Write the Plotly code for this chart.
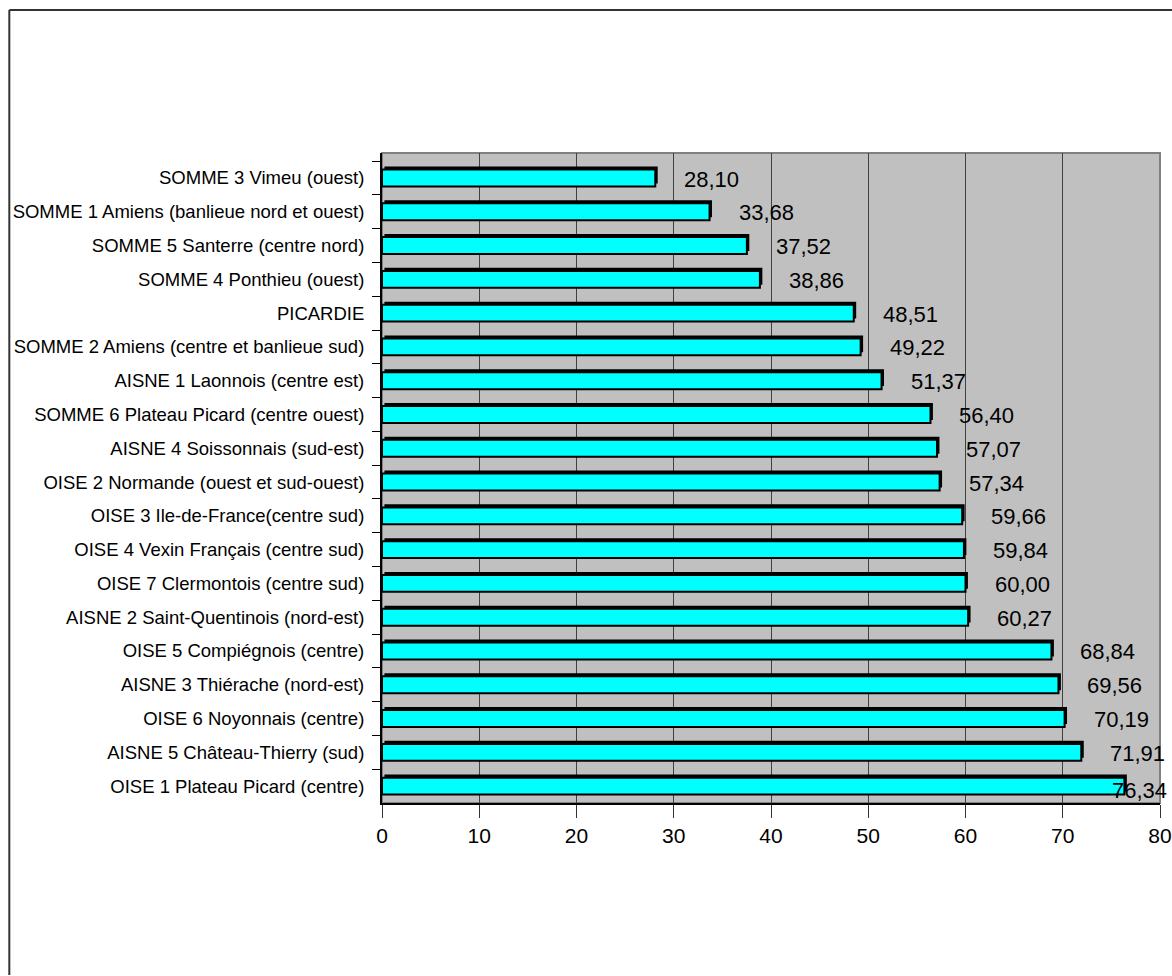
import plotly.graph_objects as go

# categories top to bottom, as shown in the chart
zones = [
    "SOMME 3 Vimeu (ouest)",
    "SOMME 1 Amiens (banlieue nord et ouest)",
    "SOMME 5 Santerre (centre nord)",
    "SOMME 4 Ponthieu (ouest)",
    "PICARDIE",
    "SOMME 2 Amiens (centre et banlieue sud)",
    "AISNE 1 Laonnois (centre est)",
    "SOMME 6 Plateau Picard (centre ouest)",
    "AISNE 4 Soissonnais (sud-est)",
    "OISE 2 Normande (ouest et sud-ouest)",
    "OISE 3 Ile-de-France(centre sud)",
    "OISE 4 Vexin Français (centre sud)",
    "OISE 7 Clermontois (centre sud)",
    "AISNE 2 Saint-Quentinois (nord-est)",
    "OISE 5 Compiégnois (centre)",
    "AISNE 3 Thiérache (nord-est)",
    "OISE 6 Noyonnais (centre)",
    "AISNE 5 Château-Thierry (sud)",
    "OISE 1 Plateau Picard (centre)",
]
valeurs = [28.10, 33.68, 37.52, 38.86, 48.51, 49.22, 51.37, 56.40, 57.07, 57.34,
           59.66, 59.84, 60.00, 60.27, 68.84, 69.56, 70.19, 71.91, 76.34]
x_ticks = [0, 10, 20, 30, 40, 50, 60, 70, 80]

labels = [f"{v:.2f}".replace(".", ",") for v in valeurs]

W, H = 1184, 976
left, right, top, bottom = 382, 1169, 153, 803
x_max = 80

fig = go.Figure()

# black "3D" shadow behind each bar
fig.add_trace(go.Bar(
    y=zones, x=valeurs, orientation="h", base=0.25,
    width=0.5, offset=-0.34,
    marker=dict(color="black", line=dict(width=0)),
    hoverinfo="skip", showlegend=False,
))
fig.add_trace(go.Bar(
    y=zones, x=valeurs, orientation="h",
    width=0.5, offset=-0.25,
    marker=dict(color="#00FFFF", line=dict(color="black", width=2)),
    showlegend=False,
))

lab_font = dict(family="Liberation Sans, Arial", size=22, color="black")
for z, v, t in zip(zones, valeurs, labels):
    if v > 74:
        # no room on the right: keep the label inside the frame, over the bar end
        fig.add_annotation(x=x_max, y=z, text=t, showarrow=False, xanchor="right",
                           xshift=9, yshift=-4, font=lab_font)
    else:
        fig.add_annotation(x=v, y=z, text=t, showarrow=False, xanchor="left",
                           xshift=27, yshift=-1, font=lab_font)

pw = right - left
ph = bottom - top
fx = lambda px: (px - left) / pw
fy = lambda py: (bottom - py) / ph
# outer frame of the chart (only left and top edges fall inside the picture)
frame = dict(color="#333333", width=2)
fig.add_shape(type="line", xref="paper", yref="paper",
              x0=fx(5), x1=fx(5), y0=fy(H - 1), y1=fy(10), line=frame, layer="below")
fig.add_shape(type="line", xref="paper", yref="paper",
              x0=fx(5), x1=fx(W - 1), y0=fy(10), y1=fy(10), line=frame, layer="below")
# plot area border (top / right in gray)
fig.add_shape(type="rect", xref="paper", yref="paper", x0=0, x1=1, y0=0, y1=1,
              line=dict(color="#808080", width=2), layer="below")

fig.update_layout(
    width=W, height=H,
    margin=dict(l=left, r=W - right, t=top, b=H - bottom),
    barmode="overlay",
    plot_bgcolor="#C0C0C0",
    paper_bgcolor="white",
    font=dict(family="Liberation Sans, Arial", color="black"),
    showlegend=False,
)
fig.update_xaxes(
    range=[0, x_max], tickvals=x_ticks, ticks="outside", ticklen=13, tickcolor="#333",
    showgrid=True, gridcolor="#404040", gridwidth=1,
    showline=True, linecolor="black", linewidth=2,
    tickfont=dict(size=21), zeroline=False, fixedrange=True,
)
fig.update_yaxes(
    categoryorder="array", categoryarray=zones,
    range=[18.5, -0.74], tickson="boundaries", ticks="outside", ticklen=8,
    tickcolor="black", showgrid=False,
    showline=True, linecolor="black", linewidth=2,
    tickfont=dict(size=18.5), ticklabelstandoff=12, fixedrange=True,
)

# remove the page margin so the figure sits at the window's corner
fig.write_html("out.html", config={"responsive": False, "displayModeBar": False},
               post_script="document.body.style.margin='0';document.body.style.overflow='hidden';")
